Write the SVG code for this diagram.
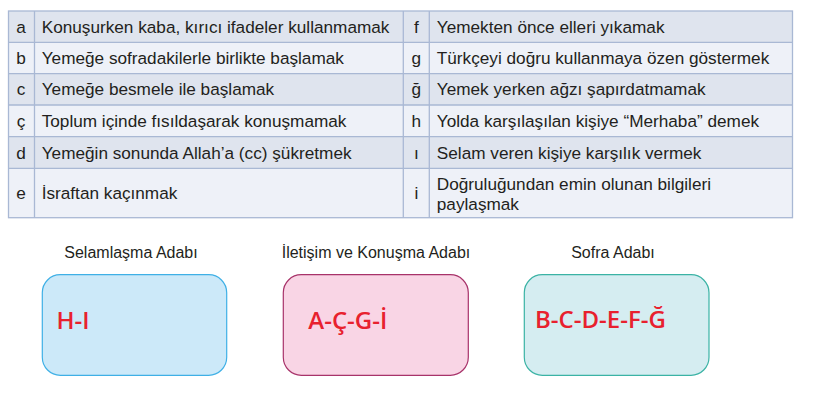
<svg xmlns="http://www.w3.org/2000/svg" width="818" height="402" viewBox="0 0 818 402">
<style>
.t{font-family:"Liberation Sans",Arial,sans-serif;font-size:17.2px;fill:#231f20}
.l{font-family:"Liberation Sans",Arial,sans-serif;font-size:16px;fill:#231f20;text-anchor:middle}
.c{text-anchor:middle}
.dk{fill:#dfe4ee}
.lt{fill:#eef1f8}
.g{stroke:#a9b8d4;stroke-width:1.3;fill:none}
.a{font-family:"Open Sans","Noto Sans",sans-serif;font-weight:600;font-size:24px;fill:#e8212e}
</style>
<g id="table">
<rect class="dk" x="8.5" y="11" width="784" height="31.3"/>
<rect class="lt" x="8.5" y="42.3" width="784" height="31.4"/>
<rect class="dk" x="8.5" y="73.7" width="784" height="31.3"/>
<rect class="lt" x="8.5" y="105" width="784" height="31.7"/>
<rect class="dk" x="8.5" y="136.7" width="784" height="31.6"/>
<rect class="lt" x="8.5" y="168.3" width="784" height="49.4"/>
<rect class="g" x="8.5" y="11" width="784" height="206.7"/>
<path class="g" d="M8.5 42.3H792.5M8.5 73.7H792.5M8.5 105H792.5M8.5 136.7H792.5M8.5 168.3H792.5M34.5 11V217.7M403.3 11V217.7M429.3 11V217.7"/>
<text class="t c" x="21" y="32.6">a</text>
<text class="t" x="41.7" y="32.6">Konuşurken kaba, kırıcı ifadeler kullanmamak</text>
<text class="t c" x="21" y="64">b</text>
<text class="t" x="41.7" y="64">Yemeğe sofradakilerle birlikte başlamak</text>
<text class="t c" x="21" y="95.4">c</text>
<text class="t" x="41.7" y="95.4">Yemeğe besmele ile başlamak</text>
<text class="t c" x="21" y="127">ç</text>
<text class="t" x="41.7" y="127">Toplum içinde fısıldaşarak konuşmamak</text>
<text class="t c" x="21" y="158.6">d</text>
<text class="t" x="41.7" y="158.6">Yemeğin sonunda Allah’a (cc) şükretmek</text>
<text class="t c" x="21" y="199">e</text>
<text class="t" x="41.7" y="199">İsraftan kaçınmak</text>
<text class="t c" x="416.3" y="32.6">f</text>
<text class="t" x="436.8" y="32.6">Yemekten önce elleri yıkamak</text>
<text class="t c" x="416.3" y="64">g</text>
<text class="t" x="436.8" y="64">Türkçeyi doğru kullanmaya özen göstermek</text>
<text class="t c" x="416.3" y="95.4">ğ</text>
<text class="t" x="436.8" y="95.4">Yemek yerken ağzı şapırdatmamak</text>
<text class="t c" x="416.3" y="127">h</text>
<text class="t" x="436.8" y="127">Yolda karşılaşılan kişiye “Merhaba” demek</text>
<text class="t c" x="416.3" y="158.6">ı</text>
<text class="t" x="436.8" y="158.6">Selam veren kişiye karşılık vermek</text>
<text class="t c" x="416.3" y="199">i</text>
<text class="t" x="436.8" y="189.5">Doğruluğundan emin olunan bilgileri</text>
<text class="t" x="436.8" y="209.5">paylaşmak</text>
</g>
<g id="selamlasma">
<text class="l" x="131" y="258.3">Selamlaşma Adabı</text>
<rect x="42.3" y="274.7" width="184.4" height="100.6" rx="18" fill="#cce9f9" stroke="#3fb0e6" stroke-width="1.2"/>
<text class="a" x="56.5" y="329.3">H-I</text>
</g>
<g id="iletisim">
<text class="l" x="376" y="258.3">İletişim ve Konuşma Adabı</text>
<rect x="283.3" y="274.7" width="185" height="100.6" rx="18" fill="#f9d5e5" stroke="#a8336a" stroke-width="1.2"/>
<text class="a" x="308.3" y="329.3">A-Ç-G-İ</text>
</g>
<g id="sofra">
<text class="l" x="613" y="258.3">Sofra Adabı</text>
<rect x="524.3" y="274.7" width="184.7" height="100.6" rx="18" fill="#d5edf1" stroke="#3bb3a5" stroke-width="1.2"/>
<text class="a" x="535" y="327.5">B-C-D-E-F-Ğ</text>
</g>
</svg>
